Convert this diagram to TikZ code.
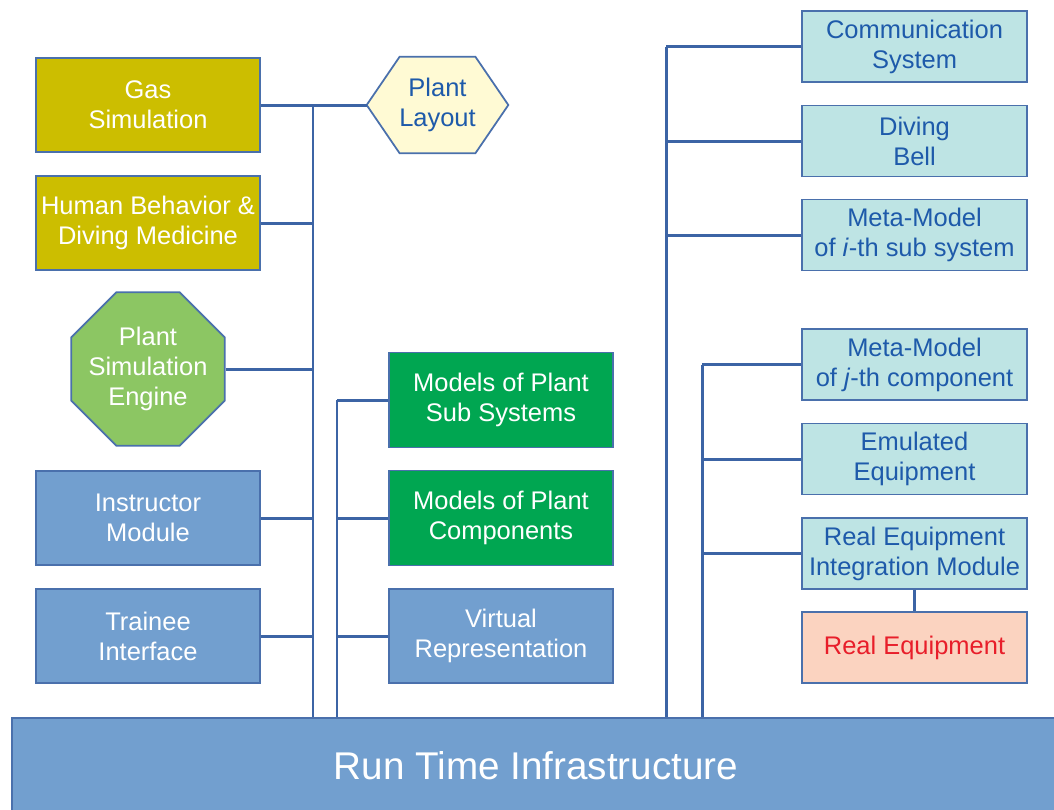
\documentclass[tikz,border=0pt]{standalone}
\usepackage{fontspec}
\setmainfont{Liberation Sans}
\usetikzlibrary{shapes.geometric,backgrounds}
\definecolor{gasolive}{RGB}{204,190,0}
\definecolor{enginegreen}{RGB}{140,198,99}
\definecolor{modelgreen}{RGB}{0,166,81}
\definecolor{moduleblue}{RGB}{114,159,207}
\definecolor{metacyan}{RGB}{190,228,228}
\definecolor{metablue}{RGB}{30,90,170}
\definecolor{realfill}{RGB}{251,211,192}
\definecolor{realred}{RGB}{232,30,42}
\definecolor{layoutfill}{RGB}{255,250,212}
\definecolor{boxline}{RGB}{74,112,172}
\definecolor{busblue}{RGB}{60,100,165}
\newcommand\BoxFont{\fontsize{14.5}{17}\selectfont}
\tikzset{
  block/.style={
    shape = rectangle,
    draw = boxline,
    line width = 1pt,
    inner sep = 0pt,
    align = center,
    minimum width = 4.48cm,
    minimum height = 1.88cm,
    text = white,
    font = \BoxFont
  },
  gasbox/.style={block, fill = gasolive},
  modelbox/.style={block, fill = modelgreen, minimum height = 1.9cm},
  modulebox/.style={block, fill = moduleblue},
  metabox/.style={
    block,
    fill = metacyan,
    text = metablue,
    minimum width = 4.5cm,
    minimum height = 1.42cm
  },
  realbox/.style={metabox, fill = realfill, text = realred},
  engine/.style={
    shape = regular polygon,
    regular polygon sides = 8,
    minimum size = 3.32cm,
    inner sep = 0pt,
    draw = boxline,
    line width = 1pt,
    fill = enginegreen
  },
  enginetext/.style={
    text = white,
    align = center,
    font = \BoxFont
  },
  layout/.style={
    inner sep = 0pt,
    minimum width = 2.82cm,
    minimum height = 1.92cm,
    text = metablue,
    align = center,
    font = \BoxFont
  },
  rtibar/.style={
    shape = rectangle,
    draw = boxline,
    line width = 1pt,
    fill = moduleblue,
    minimum width = 20.96cm,
    minimum height = 1.92cm,
    text = white,
    font = \fontsize{22}{26}\selectfont
  },
  bus/.style={
    draw = busblue,
    line width = 1.7pt
  },
  link/.style={
    draw = busblue,
    line width = 1.3pt
  }
}

\begin{document}
\begin{tikzpicture}[x=0.02cm, y=-0.02cm]
    \clip (0,0) rectangle (1054,809);

    % left column
    \node[gasbox] (gas) at (148,105) {Gas\\Simulation};
    \node[gasbox] (human) at (148,223) {Human Behavior \&\\Diving Medicine};
    \node[engine, label={[enginetext]center:Plant\\Simulation\\Engine}] (engine) at (148,369) {};
    \node[modulebox] (instructor) at (148,518) {Instructor\\Module};
    \node[modulebox] (trainee) at (148,636) {Trainee\\Interface};

    % plant layout
    \node[layout] (layout) at (437.5,105) {Plant\\Layout};
    \begin{scope}[on background layer]
        \draw[draw = boxline, line width = 1pt, fill = layoutfill]
            (layout.west) -- ([xshift=0.66cm]layout.north west)
            -- ([xshift=-0.66cm]layout.north east) -- (layout.east)
            -- ([xshift=-0.66cm]layout.south east)
            -- ([xshift=0.66cm]layout.south west) -- cycle;
    \end{scope}

    % middle column
    \node[modelbox] (subsys) at (501,400) {Models of Plant\\Sub Systems};
    \node[modelbox] (comps) at (501,518) {Models of Plant\\Components};
    \node[modulebox] (virtual) at (501,636) {Virtual\\Representation};

    % right column
    \node[metabox] (comm) at (914.5,46.5) {Communication\\System};
    \node[metabox] (bell) at (914.5,141) {Diving\\Bell};
    \node[metabox] (metai) at (914.5,235) {Meta-Model\\of \textit{i}-th sub system};
    \node[metabox] (metaj) at (914.5,364.5) {Meta-Model\\of \textit{j}-th component};
    \node[metabox] (emulated) at (914.5,459) {Emulated\\Equipment};
    \node[metabox] (reim) at (914.5,553.5) {Real Equipment\\Integration Module};
    \node[realbox] (real) at (914.5,647.5) {Real Equipment};

    % run time infrastructure
    \node[rtibar] (rti) at (536,766) {Run Time Infrastructure};

    % bus lines
    \coordinate (busA) at (313,0);
    \coordinate (busB) at (337,0);
    \coordinate (busC) at (666,0);
    \coordinate (busD) at (702,0);

    \draw[bus] (gas.east) -- (layout.west);
    \draw[bus] (gas.east -| busA) -- (rti.north -| busA);
    \foreach \n in {human, engine, instructor, trainee}
        \draw[bus] (\n.east) -- (\n.east -| busA);

    \draw[bus] (subsys.west -| busB) -- (rti.north -| busB);
    \foreach \n in {subsys, comps, virtual}
        \draw[bus] (\n.west) -- (\n.west -| busB);

    \draw[bus] (comm.west -| busC) -- (rti.north -| busC);
    \foreach \n in {comm, bell, metai}
        \draw[bus] (\n.west) -- (\n.west -| busC);

    \draw[bus] (metaj.west -| busD) -- (rti.north -| busD);
    \foreach \n in {metaj, emulated, reim}
        \draw[bus] (\n.west) -- (\n.west -| busD);

    \draw[link] (reim.south) -- (real.north);
\end{tikzpicture}
\end{document}
